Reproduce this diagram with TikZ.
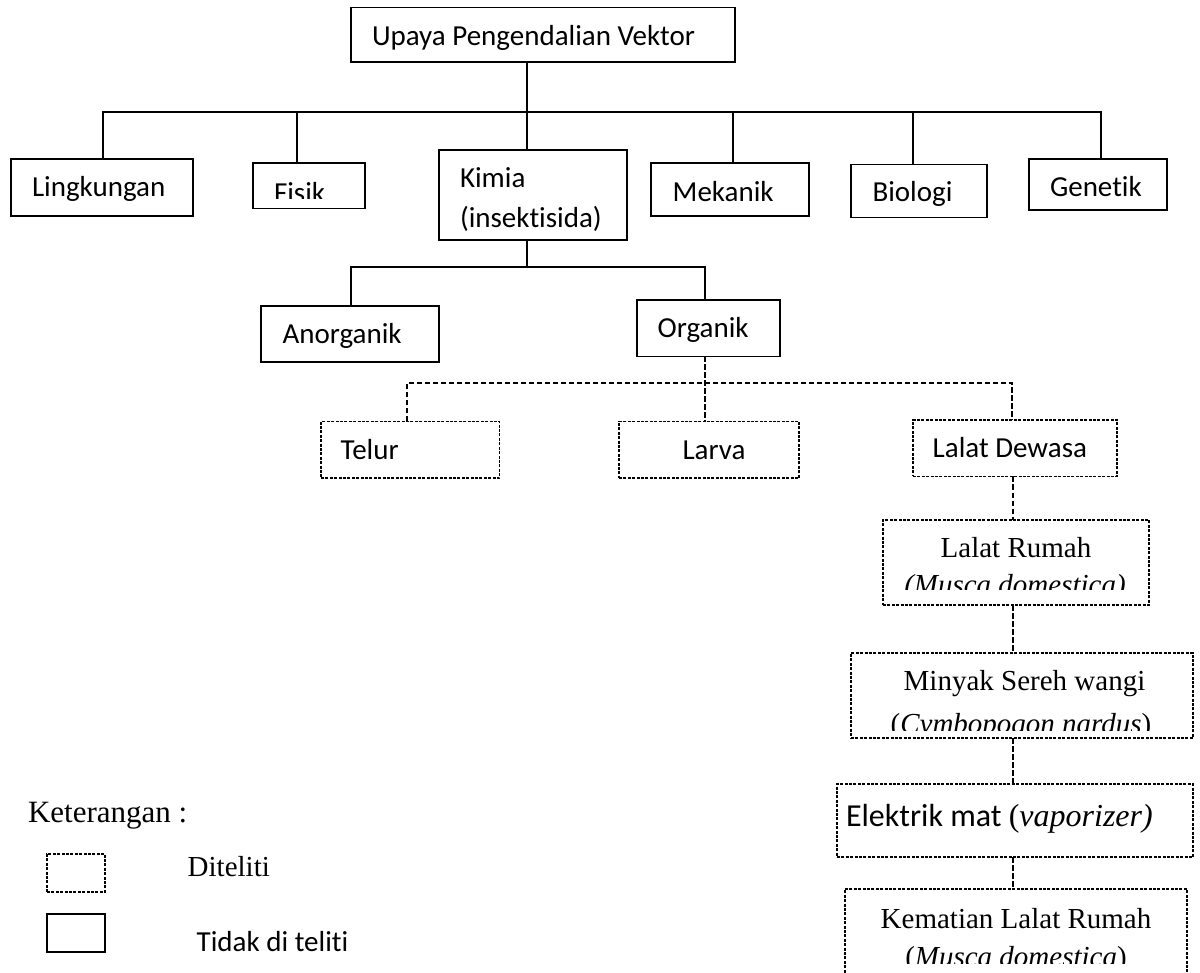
\documentclass[tikz,border=0pt]{standalone}
\usepackage{fontspec}
\setmainfont{Liberation Serif}
\newfontfamily\calibfont[Ligatures=NoCommon]{Carlito}
\usetikzlibrary{fit}
\begin{document}
\begin{tikzpicture}[x=1pt,y=-1pt,
  box/.style={draw, line width=1.3pt, inner sep=0pt, outer sep=0pt, rectangle},
  dbox/.style={draw, line width=1.1pt, dash pattern=on 3pt off 1.4pt, inner sep=0pt, outer sep=0pt, rectangle},
  conn/.style={line width=1.8pt, line join=miter},
  dconn/.style={line width=1.7pt, dash pattern=on 5.5pt off 2.5pt},
  ct/.style={font=\calibfont\fontsize{29}{35}\selectfont, inner sep=0pt, outer sep=0pt, anchor=base west},
  tt/.style={font=\fontsize{29}{35}\selectfont, inner sep=0pt, outer sep=0pt, anchor=base west},
]
\useasboundingbox (0,0) rectangle (1200,973);

% ---- boxes ----
\node[box, fit={(351,7.5) (735,62)}] (top) {};
\node[box, fit={(11,159) (193,216)}] (ling) {};
\node[box, fit={(253,163) (365,208.5)}] (fisik) {};
\node[box, fit={(439,150) (627,240)}] (kimia) {};
\node[box, fit={(651,163) (809,216)}] (mek) {};
\node[box, fit={(851,164.5) (987,217.5)}] (bio) {};
\node[box, fit={(1029,159) (1167,210)}] (gen) {};
\node[box, fit={(261,306) (439,362)}] (anorg) {};
\node[box, fit={(637,300) (780,356.5)}] (org) {};
\node[dbox, fit={(321,421.5) (499.5,478)}] (telur) {};
\node[dbox, fit={(619,421.5) (799,478)}] (larva) {};
\node[dbox, fit={(913,420) (1117,476.5)}] (dewasa) {};
\node[dbox, fit={(883,520) (1149,605)}] (rumah) {};
\node[dbox, fit={(851,653) (1193,738)}] (minyak) {};
\node[dbox, fit={(837,784) (1193,857)}] (elektrik) {};
\node[dbox, fit={(845,889) (1187,1000)}] (kematian) {};
\node[dbox, fit={(47,854) (105,892)}] (legd) {};
\node[box, fit={(47,914) (105,952)}] (legs) {};

% ---- texts ----
\node[ct] (ttop) at (372,45.7) {Upaya Pengendalian Vektor};
\node[ct] (tling) at (32,197) {Lingkungan};
\begin{scope}
  \clip (253,163) rectangle (365,198.3);
  \node[ct] (tfisik) at (274,203) {Fisik};
\end{scope}
\node[ct] (tkimia1) at (460,187.3) {Kimia};
\node[ct] (tkimia2) at (460,228) {(insektisida)};
\node[ct] (tmek) at (672.7,201.7) {Mekanik};
\node[ct] (tbio) at (872.5,201.7) {Biologi};
\node[ct] (tgen) at (1050,197) {Genetik};
\node[ct] (tanorg) at (282.5,343.3) {Anorganik};
\node[ct] (torg) at (657.6,338) {Organik};
\node[ct] (ttelur) at (340.7,460) {Telur};
\node[ct] (tlarva) at (682.5,460) {Larva};
\node[ct] (tdewasa) at (932.7,457) {Lalat Dewasa};
\node[tt, anchor=base] (trumah1) at (1016,557) {Lalat Rumah};
\begin{scope}
  \clip (883,520) rectangle (1149,589.5);
  \node[tt, anchor=base] (trumah2) at (1015,594) {\itshape (Musca domestica)};
\end{scope}
\node[tt, anchor=base] (tminyak1) at (1024.5,690) {Minyak Sereh wangi};
\begin{scope}
  \clip (851,653) rectangle (1193,730.5);
  \node[tt, anchor=base] (tminyak2) at (1021,733) {(\textit{Cymbopogon nardus})};
\end{scope}
\node[ct, font=\calibfont\fontsize{32}{38}\selectfont] (telektrik) at (846,826.7) {Elektrik mat {\rmfamily(\textit{vaporizer)}}};
\node[tt, anchor=base] (tkem1) at (1016,928) {Kematian Lalat Rumah};
\begin{scope}
  \clip (845,889) rectangle (1187,963);
  \node[tt, anchor=base] (tkem2) at (1016,966) {(\textit{Musca domestica})};
\end{scope}
\node[tt, font=\fontsize{31}{36}\selectfont] (tket) at (28,822.7) {Keterangan :};
\node[tt] (tdit) at (187.7,876) {Diteliti};
\node[ct] (ttidak) at (196.7,951.7) {Tidak di teliti};

% ---- solid connectors ----
\coordinate (b0) at (527,111.7);
\coordinate (bL) at (103,111.7);
\coordinate (bF) at (297,111.7);
\coordinate (bM) at (733,111.7);
\coordinate (bB) at (913,111.7);
\coordinate (bG) at (1101,111.7);
\draw[conn] (top.south -| b0) -- (b0);
\draw[conn] (ling.north -| bL) -- (bL) -- (bG) -- (gen.north -| bG);
\draw[conn] (bF) -- (fisik.north -| bF);
\draw[conn] (b0) -- (kimia.north -| b0);
\draw[conn] (bM) -- (mek.north -| bM);
\draw[conn] (bB) -- (bio.north -| bB);

\coordinate (k0) at (527,266.7);
\coordinate (kA) at (351,266.7);
\coordinate (kO) at (705,266.7);
\draw[conn] (kimia.south -| k0) -- (k0);
\draw[conn] (anorg.north -| kA) -- (kA) -- (kO) -- (org.north -| kO);

% ---- dashed connectors ----
\coordinate (dO) at (705,383);
\coordinate (dT) at (407,383);
\coordinate (dD) at (1012,383);
\draw[dconn] (org.south -| dO) -- (larva.north -| dO);
\draw[dconn] (telur.north -| dT) -- (dT) -- (dD) -- (dewasa.north -| dD);
\coordinate (vx) at (1013,0);
\draw[dconn] (dewasa.south -| vx) -- (rumah.north -| vx);
\draw[dconn] (rumah.south -| vx) -- (minyak.north -| vx);
\draw[dconn] (minyak.south -| vx) -- (elektrik.north -| vx);
\draw[dconn] (elektrik.south -| vx) -- (kematian.north -| vx);
\end{tikzpicture}
\end{document}
